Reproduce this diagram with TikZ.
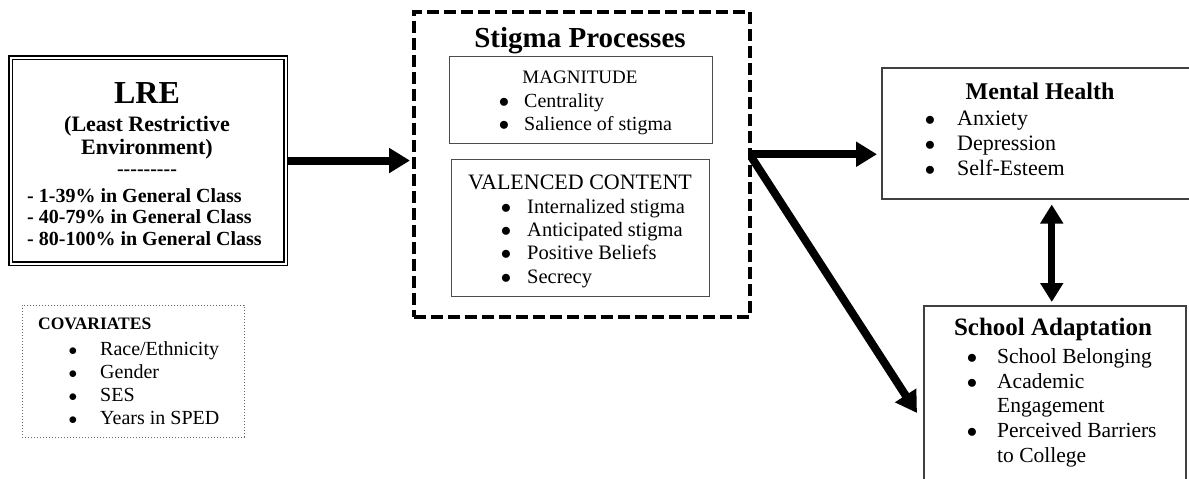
\documentclass[tikz,border=0pt]{standalone}
\usepackage{fontspec}
\setmainfont{Liberation Serif}
\usetikzlibrary{arrows.meta}

\begin{document}
\begin{tikzpicture}
  [x=1pt, y=-1pt,
    box/.style={draw, inner sep=0pt, anchor=north west},
    heading/.style={inner sep=0pt, anchor=base, font=\bfseries\fontsize{#1}{#1}\selectfont},
    plain/.style={inner sep=0pt, anchor=base, font=\fontsize{#1}{#1}\selectfont},
    item/.style={inner sep=0pt, anchor=base west, font=\fontsize{#1}{#1}\selectfont},
    dot/.style={inner sep=0pt, anchor=base, font=\fontsize{#1}{#1}\selectfont},
    bigarrow/.style={-{Triangle[length=21pt,width=24pt]}, line width=8pt},
    dblarrow/.style={{Triangle[length=19pt,width=22pt]}-{Triangle[length=19pt,width=22pt]}, line width=7pt},
  ]
  \useasboundingbox (0,0) rectangle (1189,479);
  \clip (0,0) rectangle (1189,479);
  \fill[white] (0,0) rectangle (1189,479);

  % Boxes
  \node[box, minimum width=275pt, minimum height=206pt, line width=1.1pt,
        double, double distance=2pt] (lre) at (10,57) {};
  \node[box, minimum width=336pt, minimum height=305pt, line width=3.5pt,
        dash pattern=on 12pt off 5pt] (stigma) at (412,10) {};
  \node[box, minimum width=263pt, minimum height=87pt, draw=black!70, line width=0.9pt] (mag) at (449,56) {};
  \node[box, minimum width=258pt, minimum height=137pt, draw=black!70, line width=0.9pt] (val) at (451,159) {};
  \node[box, minimum width=340pt, minimum height=131pt, draw=black!75, line width=1.5pt] (mh) at (881,67) {};
  \node[box, minimum width=262pt, minimum height=200pt, draw=black!75, line width=1.5pt] (sa) at (923,305) {};
  \node[box, minimum width=222pt, minimum height=132pt, draw=black!60, line width=0.9pt,
        dash pattern=on 1pt off 2pt] (cov) at (22,305) {};

  % LRE
  \node[heading=32] (lre-title) at (147,103) {LRE};
  \node[heading=22] (lre-sub1) at (147,131) {(Least Restrictive};
  \node[heading=22] (lre-sub2) at (147,154) {Environment)};
  \node[heading=20] (lre-rule) at (147,175) {{-}{-}{-}{-}{-}{-}{-}{-}{-}};
  \foreach \txt [count=\i] in {1-39\% in General Class, 40-79\% in General Class, 80-100\% in General Class}
    \node[item=20, font=\bfseries\fontsize{20}{20}\selectfont] (lre-\i) at (27,{180.5+21.5*\i}) {- \txt};

  % Stigma processes
  \node[heading=29] (stigma-title) at (580,47) {Stigma Processes};
  \node[plain=19] (mag-title) at (580,83) {MAGNITUDE};
  \foreach \txt [count=\i] in {Centrality, Salience of stigma} {
    \node[dot=20] (mag-b\i) at (504,{84+23*\i}) {$\bullet$};
    \node[item=20] (mag-\i) at (524,{84+23*\i}) {\txt};
  }
  \node[plain=22] (val-title) at (580,189) {VALENCED CONTENT};
  \foreach \txt [count=\i] in {Internalized stigma, Anticipated stigma, Positive Beliefs, Secrecy} {
    \node[dot=20] (val-b\i) at (506,{190+23.3*\i}) {$\bullet$};
    \node[item=20.5] (val-\i) at (527,{190+23.3*\i}) {\txt};
  }

  % Mental health
  \node[heading=24] (mh-title) at (1040,99) {Mental Health};
  \foreach \txt [count=\i] in {Anxiety, Depression, Self-Esteem} {
    \node[dot=21] (mh-b\i) at (930,{100+25*\i}) {$\bullet$};
    \node[item=22] (mh-\i) at (957,{100+25*\i}) {\txt};
  }

  % School adaptation
  \node[heading=25] (sa-title) at (1053,335) {School Adaptation};
  \node[dot=21] (sa-b1) at (972,363) {$\bullet$};
  \node[item=21.5] (sa-1) at (997,363) {School Belonging};
  \node[dot=21] (sa-b2) at (972,388) {$\bullet$};
  \node[item=21.5] (sa-2) at (997,388) {Academic};
  \node[item=21.5] (sa-2b) at (997,412) {Engagement};
  \node[dot=21] (sa-b3) at (972,437) {$\bullet$};
  \node[item=21.5] (sa-3) at (997,437) {Perceived Barriers};
  \node[item=21.5] (sa-3b) at (997,462) {to College};

  % Covariates
  \node[item=17.5, font=\bfseries\fontsize{17.5}{17.5}\selectfont] (cov-title) at (38,329) {COVARIATES};
  \foreach \txt [count=\i] in {Race/Ethnicity, Gender, SES, Years in SPED} {
    \node[dot=19] (cov-b\i) at (73,{332+23*\i}) {$\bullet$};
    \node[item=20] (cov-\i) at (100,{332+23*\i}) {\txt};
  }

  % Arrows
  \coordinate (sp-out1) at ([yshift=10pt]stigma.east);
  \coordinate (sp-out2) at ([yshift=7pt]stigma.east);
  \coordinate (sa-tip) at (917,413);
  \draw[bigarrow, shorten <=1pt, shorten >=2pt] (lre.east) -- (lre.east -| stigma.west);
  \draw[bigarrow, shorten >=4pt] (sp-out1) -- (sp-out1 -| mh.west);
  \draw[bigarrow] (sp-out2) -- (sa-tip);
  \draw[dblarrow, shorten <=5pt, shorten >=3pt] (mh.south) -- (mh.south |- sa.north);
\end{tikzpicture}
\end{document}
